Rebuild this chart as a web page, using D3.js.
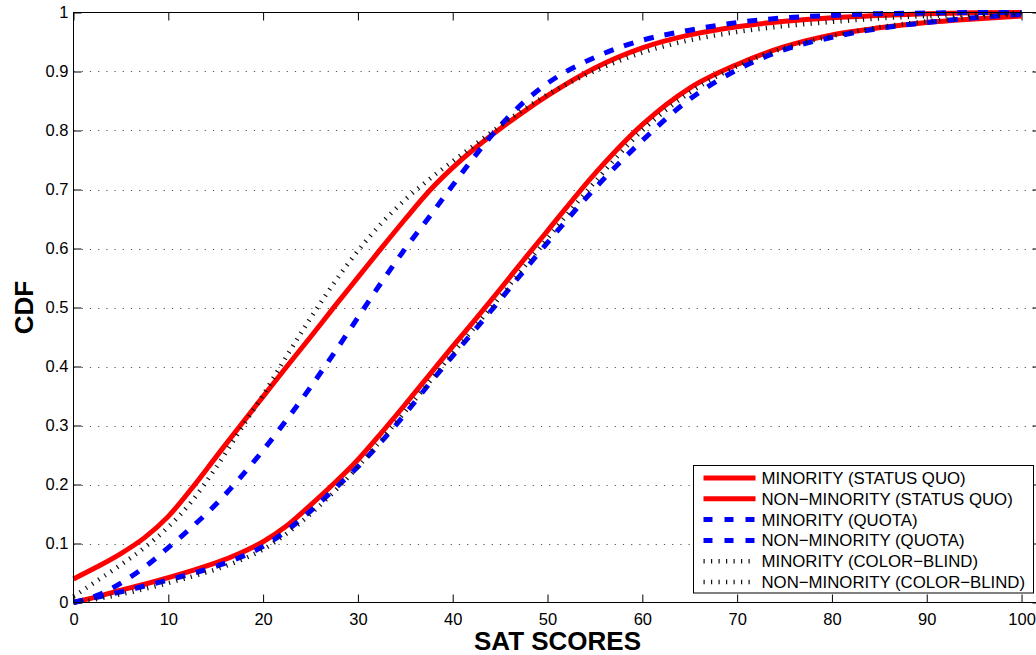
<!DOCTYPE html>
<html>
<head>
<meta charset="utf-8">
<script src="https://cdn.jsdelivr.net/npm/d3@7"></script>
<style>
  html, body { margin: 0; padding: 0; background: #fff; }
  svg { display: block; font-family: "Liberation Sans", Arial, Helvetica, sans-serif; }
</style>
</head>
<body>
<svg id="chart" width="1036" height="655"></svg>
<script>
// SAT score grid shared by every curve
const scores = [0, 2.5, 5, 7.5, 10, 12.5, 15, 17.5, 20, 22.5, 25, 27.5, 30, 32.5, 35, 37.5, 40, 42.5, 45, 47.5, 50,
  55, 60, 65, 70, 75, 80, 85, 90, 95, 100];

// CDF values
const minorityStatusQuo = [0.040, 0.0605, 0.083, 0.110, 0.146, 0.194, 0.246, 0.298, 0.349, 0.400, 0.450, 0.501, 0.551, 0.601, 0.650, 0.697, 0.737, 0.772, 0.803, 0.832, 0.859,
  0.906, 0.940, 0.962, 0.976, 0.985, 0.991, 0.995, 0.998, 0.9995, 1.0];
const nonMinorityStatusQuo = [0.0, 0.010, 0.021, 0.031, 0.042, 0.054, 0.067, 0.083, 0.103, 0.130, 0.165, 0.202, 0.242, 0.288, 0.336, 0.385, 0.434, 0.482, 0.531, 0.581, 0.630,
  0.727, 0.810, 0.872, 0.912, 0.942, 0.962, 0.974, 0.983, 0.989, 0.994];
const minorityQuota = [0.0, 0.012, 0.033, 0.060, 0.093, 0.128, 0.166, 0.210, 0.258, 0.310, 0.365, 0.423, 0.483, 0.543, 0.600, 0.653, 0.707, 0.760, 0.808, 0.848, 0.880,
  0.924, 0.953, 0.970, 0.983, 0.991, 0.995, 0.998, 0.999, 1.0, 1.0];
const nonMinorityQuota = [0.0, 0.009, 0.018, 0.028, 0.038, 0.049, 0.061, 0.076, 0.095, 0.122, 0.155, 0.192, 0.230, 0.273, 0.320, 0.370, 0.418, 0.465, 0.513, 0.562, 0.610,
  0.702, 0.783, 0.853, 0.903, 0.937, 0.958, 0.973, 0.983, 0.991, 0.997];
const minorityColorBlind = [0.010, 0.037, 0.064, 0.093, 0.128, 0.172, 0.228, 0.290, 0.352, 0.418, 0.482, 0.542, 0.596, 0.643, 0.683, 0.717, 0.748, 0.778, 0.808, 0.836, 0.861,
  0.901, 0.932, 0.953, 0.967, 0.977, 0.984, 0.990, 0.994, 0.997, 0.999];
const nonMinorityColorBlind = [0.0, 0.006, 0.014, 0.023, 0.033, 0.044, 0.056, 0.071, 0.090, 0.117, 0.150, 0.188, 0.230, 0.276, 0.324, 0.373, 0.422, 0.470, 0.518, 0.568, 0.617,
  0.713, 0.800, 0.864, 0.909, 0.940, 0.960, 0.975, 0.985, 0.992, 0.997];

const seriesNames = ["MINORITY (STATUS QUO)", "NON\u2212MINORITY (STATUS QUO)", "MINORITY (QUOTA)",
  "NON\u2212MINORITY (QUOTA)", "MINORITY (COLOR\u2212BLIND)", "NON\u2212MINORITY (COLOR\u2212BLIND)"];
const xTicks = [0, 10, 20, 30, 40, 50, 60, 70, 80, 90, 100];
const yTicks = [0, 0.1, 0.2, 0.3, 0.4, 0.5, 0.6, 0.7, 0.8, 0.9, 1];

const series = [minorityStatusQuo, nonMinorityStatusQuo, minorityQuota, nonMinorityQuota, minorityColorBlind, nonMinorityColorBlind]
  .map((vals, i) => ({ name: seriesNames[i], kind: Math.floor(i / 2), values: vals.map((v, j) => [scores[j], v]) }));

// line looks: solid red, dashed blue, dotted black
const styles = [
  { stroke: "#ff0000", width: 5, dash: null },
  { stroke: "#0000ff", width: 5, dash: "10,11" },
  { stroke: "#111", width: 4.5, dash: "1.2,6.3" }
];

const width = 1036;
const height = 655;
const margin = { top: 12.5, left: 73.5, bottom: 52.5, right: -4.5 };

const svg = d3.select("#chart");

const x = d3.scaleLinear()
  .domain([0, 102])
  .range([margin.left, width - margin.right]);

const y = d3.scaleLinear()
  .domain([0, 1])
  .range([height - margin.bottom, margin.top]);

// horizontal dotted grid
svg.append("g")
  .selectAll("line")
  .data(yTicks.slice(1, -1))
  .join("line")
  .attr("x1", x(0))
  .attr("x2", x(102))
  .attr("y1", d => Math.round(y(d)) + 0.5)
  .attr("y2", d => Math.round(y(d)) + 0.5)
  .attr("stroke", "#555")
  .attr("stroke-width", 1)
  .attr("stroke-dasharray", "1.2,7");

function xAxis(g) {
  g.attr("transform", `translate(0,${y(0)})`)
    .call(d3.axisBottom(x).tickValues(xTicks).tickSize(-8).tickPadding(10.5).tickFormat(d3.format("d")))
    .attr("font-size", "16.5px")
    .attr("font-family", null);
}

function yAxis(g) {
  g.attr("transform", `translate(${x(0)},0)`)
    .call(d3.axisLeft(y).tickValues(yTicks).tickSize(-8).tickPadding(5).tickFormat(d => +d.toFixed(1)))
    .attr("font-size", "16.5px")
    .attr("font-family", null);
}

svg.append("g").call(xAxis);
svg.append("g").call(yAxis);
svg.append("g")
  .attr("transform", `translate(0,${y(1)})`)
  .call(d3.axisTop(x).tickValues(xTicks).tickSize(-8).tickFormat(""));
svg.append("g")
  .attr("transform", `translate(${x(102)},0)`)
  .call(d3.axisRight(y).tickValues(yTicks).tickSize(-8).tickFormat(""));

svg.selectAll(".domain").remove();
svg.selectAll(".tick line").attr("stroke", "#000");
svg.selectAll(".tick text").attr("fill", "#000");

// curves
const line = d3.line()
  .x(d => x(d[0]))
  .y(d => y(d[1]))
  .curve(d3.curveMonotoneX);

svg.append("g")
  .selectAll("path")
  .data(series)
  .join("path")
  .attr("d", d => line(d.values))
  .attr("fill", "none")
  .attr("stroke", d => styles[d.kind].stroke)
  .attr("stroke-width", d => styles[d.kind].width)
  .attr("stroke-dasharray", d => styles[d.kind].dash);

// axes frame
svg.append("rect")
  .attr("x", x(0))
  .attr("y", y(1))
  .attr("width", x(102) - x(0))
  .attr("height", y(0) - y(1))
  .attr("fill", "none")
  .attr("stroke", "#000")
  .attr("stroke-width", 1);

// axis titles
svg.append("text")
  .attr("x", (x(0) + x(100)) / 2 + 10)
  .attr("y", 650)
  .attr("text-anchor", "middle")
  .attr("font-size", "26px")
  .attr("font-weight", "bold")
  .text("SAT SCORES");

svg.append("text")
  .attr("transform", `translate(33,${(y(0) + y(1)) / 2}) rotate(-90)`)
  .attr("text-anchor", "middle")
  .attr("font-size", "26px")
  .attr("font-weight", "bold")
  .text("CDF");

// legend
const legend = svg.append("g").attr("transform", "translate(693.5,465.5)");
legend.append("rect")
  .attr("width", 340)
  .attr("height", 127.5)
  .attr("fill", "#fff")
  .attr("stroke", "#000")
  .attr("stroke-width", 1);

const rows = legend.selectAll("g.row")
  .data(series)
  .join("g")
  .attr("class", "row")
  .attr("transform", (d, i) => `translate(0,${12.5 + i * 20.8})`);

rows.append("line")
  .attr("x1", 10)
  .attr("x2", 62)
  .attr("stroke", d => styles[d.kind].stroke)
  .attr("stroke-width", d => styles[d.kind].width)
  .attr("stroke-dasharray", d => d.kind === 1 ? "9,12" : styles[d.kind].dash);

rows.append("text")
  .attr("x", 68)
  .attr("dy", "0.36em")
  .attr("font-size", "16.8px")
  .text(d => d.name);
</script>
</body>
</html>
